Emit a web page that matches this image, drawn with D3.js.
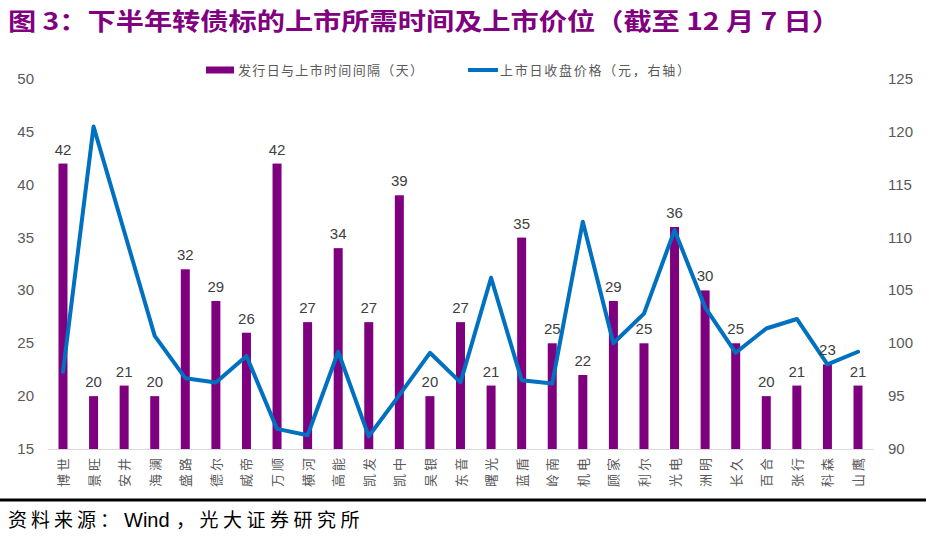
<!DOCTYPE html>
<html><head><meta charset="utf-8">
<script src="https://cdn.jsdelivr.net/npm/d3@7/dist/d3.min.js"></script>
<style>
body{margin:0;background:#fff;}
svg{display:block;font-family:Arial,"Liberation Sans","Noto Sans CJK SC",sans-serif;}
</style></head>
<body><svg id="c" width="934" height="543"></svg>
<script>
const categories = ["博世","景旺","安井","海澜","盛路","德尔","威帝","万顺","横河","高能","凯发","凯中","吴银","东音","曙光","蓝盾","岭南","机电","顾家","利尔","光电","洲明","长久","百合","张行","科森","山鹰"];
const daysGap = [42,20,21,20,32,29,26,42,27,34,27,39,20,27,21,35,25,22,29,25,36,30,25,20,21,23,21];
const closePrice = [97.3,120.5,110.6,100.7,96.7,96.3,98.8,91.9,91.3,99.2,91.2,95.1,99.1,96.3,106.2,96.5,96.2,111.5,100.0,102.8,110.7,103.4,99.1,101.4,102.3,98.0,99.2];
const leftTicks = [15,20,25,30,35,40,45,50];
const rightTicks = [90,95,100,105,110,115,120,125];
const seriesNames = ["发行日与上市时间间隔（天）","上市日收盘价格（元，右轴）"];
const titleText = "图 3：下半年转债标的上市所需时间及上市价位（截至 12 月 7 日）";
const sourceParts = ["资料来源：","Wind","，光大证券研究所"];

const svg = d3.select("#c");
const L = 47.7, R = 873.3, T = 79, B = 449;
const purple = "#7F007F", blue = "#0070C0", grey = "#595959";
const cjk = '"Noto Sans CJK SC", sans-serif';

const x = d3.scaleBand().domain(categories).range([L, R]);
const yL = d3.scaleLinear().domain([15, 50]).range([B, T]);
const yR = d3.scaleLinear().domain([90, 125]).range([B, T]);

// title
svg.append("text").attr("x", 8).attr("y", 30)
  .attr("font-family", cjk).attr("font-weight", "bold").attr("font-size", 24)
  .attr("fill", "#800080").attr("textLength", 832).attr("lengthAdjust", "spacingAndGlyphs")
  .text(titleText);

// left axis labels
svg.append("g").selectAll("text").data(leftTicks).join("text")
  .attr("x", 34).attr("y", d => yL(d) + 5).attr("text-anchor", "end")
  .attr("font-size", 15).attr("fill", grey).text(d => d);
// right axis labels
svg.append("g").selectAll("text").data(rightTicks).join("text")
  .attr("x", 888).attr("y", d => yR(d) + 5).attr("text-anchor", "start")
  .attr("font-size", 15).attr("fill", grey).text(d => d);

// bars
const bw = 9;
svg.append("g").selectAll("rect").data(daysGap).join("rect")
  .attr("x", (d, i) => x(categories[i]) + x.bandwidth() / 2 - bw / 2)
  .attr("y", d => yL(d)).attr("width", bw).attr("height", d => B - yL(d))
  .attr("fill", purple);

// baseline
svg.append("line").attr("x1", L).attr("x2", R).attr("y1", B + 0.5).attr("y2", B + 0.5)
  .attr("stroke", "#D9D9D9").attr("stroke-width", 1);

// line
const line = d3.line().x((d, i) => x(categories[i]) + x.bandwidth() / 2).y(d => yR(d));
svg.append("path").datum(closePrice).attr("d", line)
  .attr("fill", "none").attr("stroke", blue).attr("stroke-width", 4)
  .attr("stroke-linejoin", "round").attr("stroke-linecap", "round");

// bar labels
svg.append("g").selectAll("text").data(daysGap).join("text")
  .attr("x", (d, i) => x(categories[i]) + x.bandwidth() / 2)
  .attr("y", d => yL(d) - 9).attr("text-anchor", "middle")
  .attr("font-size", 15).attr("fill", "#404040").text(d => d);

// x labels rotated
svg.append("g").selectAll("text").data(categories).join("text")
  .attr("transform", d => `translate(${x(d) + x.bandwidth() / 2 + 5},455) rotate(-90)`)
  .attr("text-anchor", "end").attr("font-family", cjk)
  .attr("font-size", 13).attr("letter-spacing", 3).attr("fill", grey).text(d => d);

// legend
svg.append("rect").attr("x", 206).attr("y", 66.5).attr("width", 28).attr("height", 7).attr("fill", purple);
svg.append("text").attr("x", 238).attr("y", 75).attr("font-family", cjk).attr("font-size", 13)
  .attr("fill", grey).attr("textLength", 185).attr("lengthAdjust", "spacing").text(seriesNames[0]);
svg.append("line").attr("x1", 468).attr("x2", 498).attr("y1", 70).attr("y2", 70)
  .attr("stroke", blue).attr("stroke-width", 4);
svg.append("text").attr("x", 500).attr("y", 75).attr("font-family", cjk).attr("font-size", 13)
  .attr("fill", grey).attr("textLength", 190).attr("lengthAdjust", "spacing").text(seriesNames[1]);

// footer
svg.append("line").attr("x1", 0).attr("x2", 926).attr("y1", 500).attr("y2", 500)
  .attr("stroke", "#000").attr("stroke-width", 3);
const ft = svg.append("text").attr("y", 527).attr("font-size", 19).attr("fill", "#000");
ft.append("tspan").attr("x", 8).attr("font-family", cjk).attr("letter-spacing", 4).text(sourceParts[0]);
ft.append("tspan").attr("x", 124).attr("font-family", "Arial, sans-serif").attr("font-size", 20).text(sourceParts[1]);
ft.append("tspan").attr("x", 176).attr("font-family", cjk).attr("letter-spacing", 4.5).text(sourceParts[2]);
</script></body></html>
